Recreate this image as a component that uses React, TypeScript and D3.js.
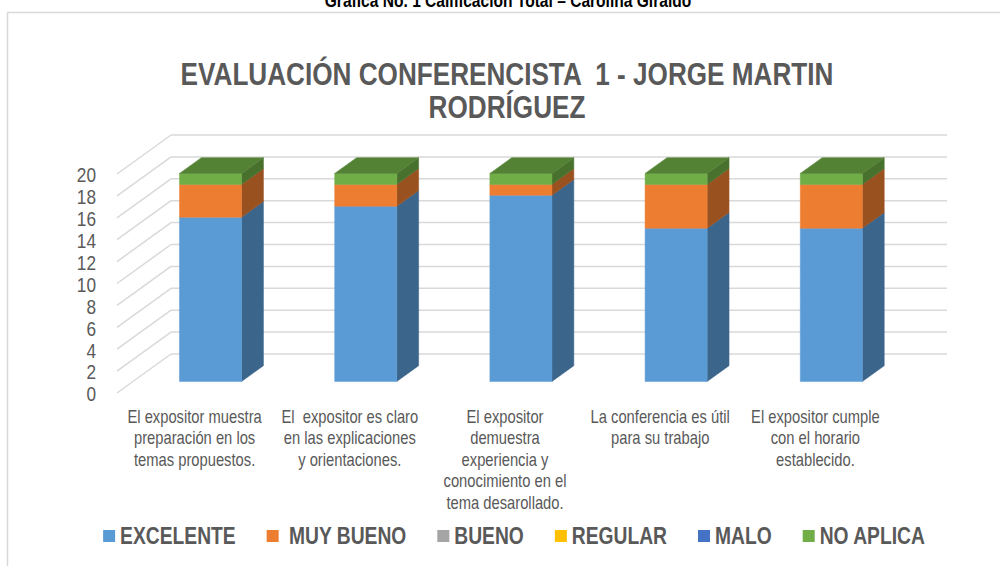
import React, { useRef, useEffect } from 'react';
import * as d3 from 'd3';

const categories: string[][] = [
	['El expositor muestra', 'preparación en los', 'temas propuestos.'],
	['El  expositor es claro', 'en las explicaciones', 'y orientaciones.'],
	['El expositor', 'demuestra', 'experiencia y', 'conocimiento en el', 'tema desarollado.'],
	['La conferencia es útil', 'para su trabajo'],
	['El expositor cumple', 'con el horario', 'establecido.'],
];

const seriesNames = ['EXCELENTE', 'MUY BUENO', 'BUENO', 'REGULAR', 'MALO', 'NO APLICA'];
const seriesColors = ['#5B9BD5', '#ED7D31', '#A5A5A5', '#FFC000', '#4472C4', '#70AD47'];

const excelente = [15, 16, 17, 14, 14];
const muyBueno = [3, 2, 1, 4, 4];
const bueno = [0, 0, 0, 0, 0];
const regular = [0, 0, 0, 0, 0];
const malo = [0, 0, 0, 0, 0];
const noAplica = [1, 1, 1, 1, 1];

const yTicks = [0, 2, 4, 6, 8, 10, 12, 14, 16, 18, 20];

// no narrow font installed, so Liberation Sans gets squeezed horizontally
const FONT = '"Liberation Sans", Arial, sans-serif';
const NARROW = 0.82;
const GREY = '#595959';

const App: React.FC = () => {
	const svgRef = useRef<SVGSVGElement | null>(null);

	useEffect(() => {
		const svg = d3.select(svgRef.current);
		svg.selectAll('*').remove();

		const seriesValues = [excelente, muyBueno, bueno, regular, malo, noAplica];
		const rows = categories.map((_, i) => {
			const r: Record<string, number> = {};
			seriesNames.forEach((s, k) => (r[s] = seriesValues[k][i]));
			return r;
		});
		const stacked = d3.stack<Record<string, number>>().keys(seriesNames)(rows);

		const x = d3
			.scaleBand<number>()
			.domain(d3.range(categories.length))
			.range([117, 893])
			.paddingInner(0.6)
			.paddingOuter(0.3);
		const y = d3.scaleLinear().domain([0, 20]).range([393, 174]);

		// oblique depth of the 3d box
		const depthX = 54;
		const depthY = -39;
		const t0 = 0.295;
		const t1 = 0.7;
		const backRight = 947;
		const proj = (xp: number, v: number, t: number): [number, number] => [
			xp + t * depthX,
			y(v) + t * depthY,
		];
		const poly = (pts: [number, number][]) => pts.map((p) => p.join(',')).join(' ');
		const at = (px: number, py: number, s = NARROW) => `translate(${px},${py}) scale(${s},1)`;

		// chart frame
		svg.append('rect')
			.attr('x', 7.5)
			.attr('y', 12.5)
			.attr('width', 1010)
			.attr('height', 600)
			.attr('fill', 'none')
			.attr('stroke', '#d9d9d9')
			.attr('stroke-width', 1.5);

		svg.append('text')
			.attr('transform', at(508, 7))
			.attr('text-anchor', 'middle')
			.attr('font-family', FONT)
			.attr('font-weight', 'bold')
			.attr('font-size', 19)
			.attr('fill', '#000')
			.text('Grafica No. 1 Calificacion Total – Carolina Giraldo');

		// title
		const titleLines = ['EVALUACIÓN CONFERENCISTA  1 - JORGE MARTIN', 'RODRÍGUEZ'];
		svg.append('g')
			.selectAll('text')
			.data(titleLines)
			.join('text')
			.attr('transform', (_, i) => at(507, 85 + i * 33, 0.817))
			.attr('text-anchor', 'middle')
			.attr('font-family', FONT)
			.attr('font-weight', 'bold')
			.attr('font-size', 32)
			.attr('fill', GREY)
			.style('white-space', 'pre')
			.text((d) => d);

		// gridlines: side wall + back wall
		const grid = svg.append('g').attr('stroke', '#d9d9d9').attr('stroke-width', 1.5);
		yTicks.forEach((v) => {
			const a = proj(117, v, 0);
			const b = proj(117, v, 1);
			grid.append('line').attr('x1', a[0]).attr('y1', a[1]).attr('x2', b[0]).attr('y2', b[1]);
			grid.append('line').attr('x1', b[0]).attr('y1', b[1]).attr('x2', backRight).attr('y2', b[1]);
		});

		// y axis labels
		svg.append('g')
			.selectAll('text')
			.data(yTicks)
			.join('text')
			.attr('transform', (d) => at(96, y(d) + 1))
			.attr('dy', '0.35em')
			.attr('text-anchor', 'end')
			.attr('font-family', FONT)
			.attr('font-size', 21)
			.attr('fill', GREY)
			.text((d) => d);

		// bars
		const bw = x.bandwidth();
		const bars = svg.append('g');
		categories.forEach((_, i) => {
			const bx0 = x(i) as number;
			const bx1 = bx0 + bw;
			let topVal = 0;
			let topColor = seriesColors[0];
			stacked.forEach((layer, k) => {
				const [v0, v1] = layer[i];
				if (v1 - v0 <= 0) return;
				const c = seriesColors[k];
				const side = d3.color(c)!.darker(1.2).formatHex();
				bars.append('polygon')
					.attr('points', poly([proj(bx1, v0, t0), proj(bx1, v0, t1), proj(bx1, v1, t1), proj(bx1, v1, t0)]))
					.attr('fill', side)
					.attr('stroke', side)
					.attr('stroke-width', 0.5);
				bars.append('polygon')
					.attr('points', poly([proj(bx0, v0, t0), proj(bx1, v0, t0), proj(bx1, v1, t0), proj(bx0, v1, t0)]))
					.attr('fill', c)
					.attr('stroke', c)
					.attr('stroke-width', 0.5);
				topVal = v1;
				topColor = c;
			});
			const top = d3.color(topColor)!.darker(0.8).formatHex();
			bars.append('polygon')
				.attr('points', poly([proj(bx0, topVal, t0), proj(bx1, topVal, t0), proj(bx1, topVal, t1), proj(bx0, topVal, t1)]))
				.attr('fill', top)
				.attr('stroke', top)
				.attr('stroke-width', 0.5);
		});

		// category labels
		const cat = svg.append('g')
			.attr('font-family', FONT)
			.attr('font-size', 18)
			.attr('fill', GREY)
			.attr('text-anchor', 'middle');
		categories.forEach((lines, i) => {
			const cx = (x(i) as number) + bw / 2;
			cat.append('text')
				.attr('transform', at(cx, 423))
				.style('white-space', 'pre')
				.selectAll('tspan')
				.data(lines)
				.join('tspan')
				.attr('x', 0)
				.attr('y', (_, j) => j * 21.5)
				.text((d) => d);
		});

		// legend
		const legend = svg.append('g')
			.attr('font-family', FONT)
			.attr('font-weight', 'bold')
			.attr('font-size', 23.5)
			.attr('fill', GREY);
		const items = seriesNames.map((name, k) => {
			const g = legend.append('g');
			g.append('rect').attr('width', 12).attr('height', 12).attr('y', -6).attr('fill', seriesColors[k]);
			const label = k === 1 ? ' ' + name : name;
			const t = g.append('text')
				.attr('transform', at(17, 0))
				.attr('dy', '0.35em')
				.style('white-space', 'pre')
				.text(label);
			const w = 17 + (t.node() as SVGTextElement).getComputedTextLength() * NARROW;
			return { g, w };
		});
		const gap = 31;
		const total = d3.sum(items, (d) => d.w) + gap * (items.length - 1);
		let cursor = 514 - total / 2;
		items.forEach((it) => {
			it.g.attr('transform', `translate(${cursor},536)`);
			cursor += it.w + gap;
		});
	}, []);

	return (
		<svg
			ref={svgRef}
			width={1000}
			height={566}
			style={{ position: 'absolute', left: 0, top: 0, background: '#fff' }}
		/>
	);
};

export default App;
